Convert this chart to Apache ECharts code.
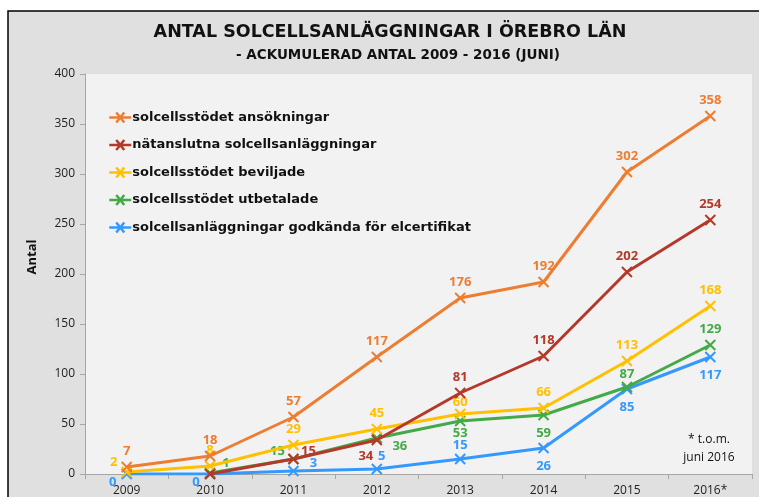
<!DOCTYPE html>
<html>
<head>
<meta charset="utf-8">
<script src="https://cdn.jsdelivr.net/npm/echarts@6/dist/echarts.min.js"></script>
<style>
  html, body { margin: 0; padding: 0; background: #fff; }
  #main { width: 759px; height: 497px; }
</style>
</head>
<body>
<div id="main"></div>
<script>
// data
const years = ['2009', '2010', '2011', '2012', '2013', '2014', '2015', '2016*']
const seriesNames = [
  'solcellsstödet ansökningar',
  'nätanslutna solcellsanläggningar',
  'solcellsstödet beviljade',
  'solcellsstödet utbetalade',
  'solcellsanläggningar godkända för elcertifikat'
]
const ansokningar = [7, 18, 57, 117, 176, 192, 302, 358]
const natanslutna = [null, 0, 15, 34, 81, 118, 202, 254]
const beviljade = [2, 8, 29, 45, 60, 66, 113, 168]
const utbetalade = [null, 1, 15, 36, 53, 59, 87, 129]
const elcertifikat = [0, 0, 3, 5, 15, 26, 85, 117]

const colors = ['#ED7D31', '#B5392A', '#FFC000', '#43AA47', '#3399FF']

// label offsets from the point, in px (null = no label)
const T = [0, -16]
const labelOffsets = [
  [T, T, T, T, T, T, T, T],
  [null, null, [15, -8], [-11, 16], T, T, T, T],
  [[-13, -10], T, T, T, [0, -12], T, T, T],
  [null, [16, -10], [-16, -8], [23, 8], [0, 12], [0, 18], [0, -13], T],
  [[-14, 8], [-14, 8], [20, -8], [5, -13], [0, -14], [0, 18], [0, 18], [0, 18]]
]

const xMark = 'path://M0,0L10,10M10,0L0,10'

function buildData (values, offsets) {
  return values.map((v, i) => {
    const off = offsets[i]
    if (!off) return { value: v, label: { show: false } }
    return { value: v, label: { position: 'inside', offset: off } }
  })
}

const allValues = [ansokningar, natanslutna, beviljade, utbetalade, elcertifikat]

const series = allValues.map((vals, k) => ({
  name: seriesNames[k],
  type: 'line',
  data: buildData(vals, labelOffsets[k]),
  symbol: xMark,
  symbolSize: 10,
  z: 10 - k,
  lineStyle: { color: colors[k], width: 3 },
  itemStyle: { color: colors[k], borderColor: colors[k], borderWidth: 2 },
  label: {
    show: true,
    color: colors[k],
    fontFamily: 'Open Sans',
    fontWeight: 'bold',
    fontSize: 13
  },
  emphasis: { disabled: true }
}))

const option = {
  animation: false,
  backgroundColor: '#ffffff',
  color: colors,
  graphic: [
    {
      type: 'rect',
      z: -10,
      shape: { x: 8, y: 11, width: 760, height: 500 },
      style: { fill: '#E0E0E0', stroke: '#000', lineWidth: 1.5 }
    },
    {
      type: 'text',
      x: 390,
      y: 32,
      style: {
        text: 'ANTAL SOLCELLSANLÄGGNINGAR I ÖREBRO LÄN',
        font: 'bold 17.5px "DejaVu Sans"',
        fill: '#111',
        align: 'center',
        verticalAlign: 'middle'
      }
    },
    {
      type: 'text',
      x: 398,
      y: 55,
      style: {
        text: '- ACKUMULERAD ANTAL 2009 - 2016 (JUNI)',
        font: 'bold 13.5px "DejaVu Sans"',
        fill: '#111',
        align: 'center',
        verticalAlign: 'middle'
      }
    },
    {
      type: 'text',
      x: 32,
      y: 257,
      rotation: Math.PI / 2,
      style: {
        text: 'Antal',
        font: 'bold 13px "Open Sans"',
        fill: '#111',
        align: 'center',
        verticalAlign: 'middle'
      }
    },
    {
      type: 'text',
      x: 709,
      y: 431,
      style: {
        text: '* t.o.m.\njuni 2016',
        font: '12px "Open Sans"',
        fill: '#111',
        align: 'center',
        lineHeight: 18
      }
    }
  ],
  legend: {
    orient: 'vertical',
    left: 103,
    top: 106,
    itemGap: 14.5,
    itemWidth: 22,
    itemHeight: 10,
    icon: 'path://M0,5L22,5M7,0L15,10M15,0L7,10',
    itemStyle: { borderWidth: 2.5 },
    textStyle: {
      fontFamily: 'DejaVu Sans',
      fontWeight: 'bold',
      fontSize: 13,
      color: '#111',
      padding: [0, 0, 0, -4]
    },
    data: seriesNames
  },
  grid: {
    left: 85,
    right: 7,
    top: 74,
    bottom: 23,
    show: true,
    backgroundColor: '#F2F2F2',
    borderWidth: 0
  },
  xAxis: {
    type: 'category',
    data: years,
    boundaryGap: true,
    axisLine: { lineStyle: { color: '#A6A6A6' } },
    axisTick: { show: true, length: 5, lineStyle: { color: '#A6A6A6' } },
    axisLabel: { color: '#222', fontFamily: 'Open Sans', fontSize: 12, margin: 11 }
  },
  yAxis: {
    type: 'value',
    min: 0,
    max: 400,
    interval: 50,
    axisLine: { show: true, lineStyle: { color: '#A6A6A6' } },
    axisTick: { show: true, length: 5, lineStyle: { color: '#A6A6A6' } },
    splitLine: { show: false },
    axisLabel: { color: '#222', fontFamily: 'Open Sans', fontSize: 12, margin: 10 }
  },
  series: series
}

const myChart = echarts.init(document.getElementById('main'))
myChart.setOption(option)
</script>
</body>
</html>
